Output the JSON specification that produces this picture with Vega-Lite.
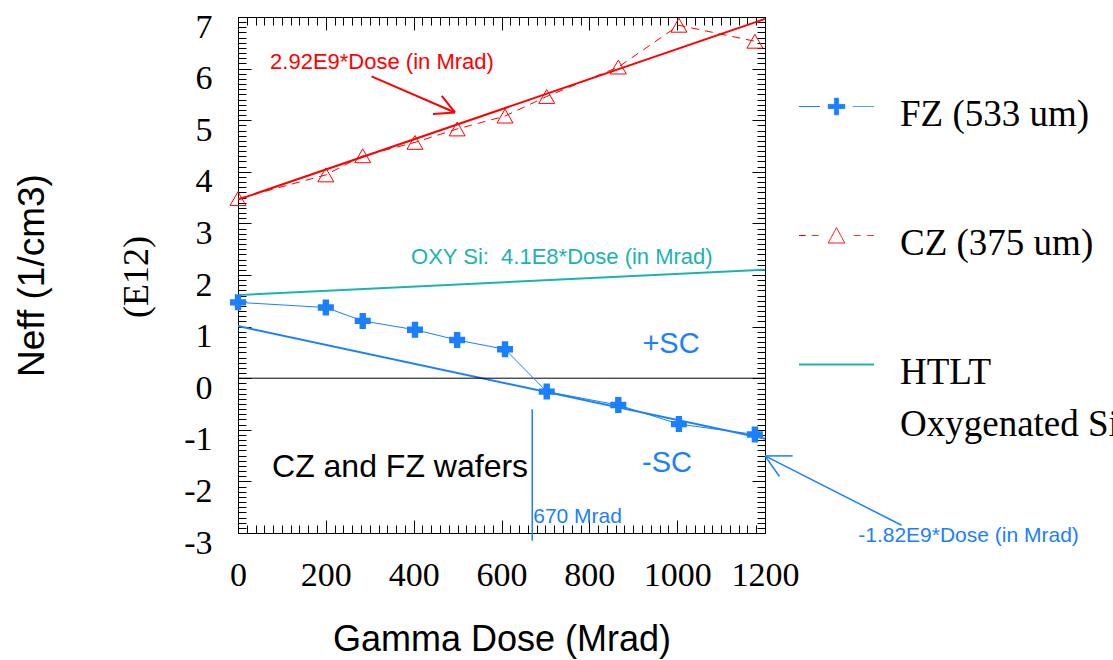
{
  "$schema": "https://vega.github.io/schema/vega-lite/v6.json",
  "width": 527,
  "height": 516,
  "autosize": {"type": "none"},
  "padding": {"left": 238, "top": 17, "right": 348, "bottom": 127},
  "background": "white",
  "config": {
    "font": "Liberation Sans",
    "view": {"stroke": "black", "strokeWidth": 1},
    "axis": {"grid": false, "domain": false, "tickColor": "black", "tickWidth": 1, "labelColor": "black", "titleColor": "black", "titleFontWeight": "normal"}
  },
  "resolve": {"axis": {"x": "independent", "y": "independent"}},
  "layer": [
    {
      "data": {"values": [{"dose": 0, "neff": 3.46}, {"dose": 1200, "neff": 6.964}]},
      "mark": {"type": "line", "color": "#ff0000", "strokeWidth": 2},
      "encoding": {
        "x": {"field": "dose", "type": "quantitative", "scale": {"domain": [0, 1200], "nice": false, "zero": false},
          "axis": {"orient": "bottom", "values": [0, 200, 400, 600, 800, 1000, 1200], "ticks": false, "tickSize": 0,
            "labelFont": "Liberation Serif", "labelFontSize": 34, "labelPadding": 25, "labelBaseline": "top", "labelFlush": false, "labelOverlap": false,
            "labelExpr": "'' + datum.value",
            "title": "Gamma Dose (Mrad)", "titleFont": "Liberation Sans", "titleFontSize": 36, "titleX": 263.5, "titleY": 117, "titleAlign": "center", "titleBaseline": "alphabetic"}},
        "y": {"field": "neff", "type": "quantitative", "scale": {"domain": [-3, 7], "nice": false, "zero": false},
          "axis": {"orient": "left", "values": [-3, -2, -1, 0, 1, 2, 3, 4, 5, 6, 7], "ticks": false, "tickSize": 0,
            "labelFont": "Liberation Serif", "labelFontSize": 34, "labelPadding": 26, "labelOffset": 10, "labelOverlap": false, "labelFlush": false,
            "labelExpr": "datum.value < 0 ? '-' + abs(datum.value) : '' + datum.value",
            "title": "Neff (1/cm3)", "titleFont": "Liberation Sans", "titleFontSize": 37, "titleAngle": -90, "titleX": -195, "titleY": 258, "titleAlign": "center", "titleBaseline": "alphabetic"}}
      }
    },
    {
      "data": {"values": [{"dose": 0, "neff": 1.01}, {"dose": 1200, "neff": -1.174}]},
      "mark": {"type": "line", "color": "#1a80ff", "strokeWidth": 2},
      "encoding": {
        "x": {"field": "dose", "type": "quantitative", "scale": {"domain": [0, 1200], "nice": false, "zero": false},
          "axis": {"orient": "top", "offset": -516, "values": [0, 200, 400, 600, 800, 1000, 1200], "tickSize": 13, "labels": false, "title": null}},
        "y": {"field": "neff", "type": "quantitative", "scale": {"domain": [-3, 7], "nice": false, "zero": false},
          "axis": {"orient": "right", "offset": -527, "values": [-3, -2, -1, 0, 1, 2, 3, 4, 5, 6, 7], "tickSize": 13, "labels": false, "title": null}}
      }
    },
    {
      "data": {"values": [{"dose": 0, "neff": 1.61, "series": "HTLT"}, {"dose": 1200, "neff": 2.102, "series": "HTLT"}]},
      "mark": {"type": "line", "strokeWidth": 2},
      "encoding": {
        "x": {"field": "dose", "type": "quantitative", "scale": {"domain": [0, 1200], "nice": false, "zero": false},
          "axis": {"orient": "top", "offset": -516, "tickCount": 60, "tickSize": 8, "labels": false, "title": null}},
        "y": {"field": "neff", "type": "quantitative", "scale": {"domain": [-3, 7], "nice": false, "zero": false},
          "axis": {"orient": "right", "offset": -527, "tickCount": 100, "tickSize": 8, "labels": false, "title": null}},
        "color": {"field": "series", "type": "nominal",
          "scale": {"domain": ["FZ (533 um)", "CZ (375 um)", "HTLT"], "range": ["#1a80ff", "#ff0000", "#1ab2b2"]},
          "legend": {
            "orient": "none", "legendX": 580, "legendY": 71, "title": null, "direction": "vertical", "padding": 0,
            "symbolSize": 5625, "symbolType": "M-1,0H1", "rowPadding": 84,
            "labelFont": "Liberation Serif", "labelFontSize": 37, "labelColor": "black", "labelOffset": 45, "labelLimit": 0,
            "labelExpr": "datum.value === 'HTLT' ? ['HTLT', 'Oxygenated Si'] : datum.value",
            "encode": {
              "symbols": {"update": {
                "shape": {"signal": "datum.value === 'FZ (533 um)' ? 'M-1,0H-0.44M0.43,0H1M-0.22,-0.055H-0.055V-0.22H0.055V-0.055H0.22V0.055H0.055V0.22H-0.055V0.055H-0.22Z' : datum.value === 'CZ (375 um)' ? 'M-1,0H-0.82M-0.66,0H-0.48M0.46,0H0.64M0.82,0H1M0,-0.21L0.22,0.2L-0.22,0.2Z' : 'M-1,0H1'"},
                "fill": {"signal": "datum.value === 'FZ (533 um)' ? '#1a80ff' : 'transparent'"},
                "stroke": {"signal": "datum.value === 'FZ (533 um)' ? '#1a80ff' : datum.value === 'CZ (375 um)' ? '#ff0000' : '#1ab2b2'"},
                "strokeWidth": {"signal": "datum.value === 'HTLT' ? 2 : 1"},
                "strokeDash": {"value": [1, 0]},
                "opacity": {"value": 1},
                "size": {"value": 5625}
              }},
              "labels": {"update": {"dy": {"value": 8}, "lineHeight": {"value": 52}}}
            }
          }}
      }
    },
    {
      "data": {"values": [{"dose": 0, "neff": 0}, {"dose": 1200, "neff": 0}]},
      "mark": {"type": "line", "color": "black", "strokeWidth": 1},
      "encoding": {
        "x": {"field": "dose", "type": "quantitative", "scale": {"domain": [0, 1200], "nice": false, "zero": false},
          "axis": {"orient": "bottom", "offset": -516, "values": [0, 200, 400, 600, 800, 1000, 1200], "tickSize": 13, "labels": false, "title": null}},
        "y": {"field": "neff", "type": "quantitative", "scale": {"domain": [-3, 7], "nice": false, "zero": false},
          "axis": {"orient": "left", "offset": -527, "values": [-3, -2, -1, 0, 1, 2, 3, 4, 5, 6, 7], "tickSize": 13, "labels": false, "title": null}}
      }
    },
    {
      "data": {"values": [
        {"dose": 0, "neff": 3.48, "series": "CZ (375 um)"},
        {"dose": 200, "neff": 3.94, "series": "CZ (375 um)"},
        {"dose": 284, "neff": 4.31, "series": "CZ (375 um)"},
        {"dose": 403, "neff": 4.57, "series": "CZ (375 um)"},
        {"dose": 499, "neff": 4.83, "series": "CZ (375 um)"},
        {"dose": 608, "neff": 5.08, "series": "CZ (375 um)"},
        {"dose": 703, "neff": 5.46, "series": "CZ (375 um)"},
        {"dose": 866, "neff": 6.03, "series": "CZ (375 um)"},
        {"dose": 1004, "neff": 6.84, "series": "CZ (375 um)"},
        {"dose": 1177, "neff": 6.53, "series": "CZ (375 um)"}
      ]},
      "mark": {"type": "line", "strokeWidth": 1, "strokeDash": [8, 6]},
      "encoding": {
        "x": {"field": "dose", "type": "quantitative", "scale": {"domain": [0, 1200], "nice": false, "zero": false},
          "axis": {"orient": "bottom", "offset": -516, "tickCount": 60, "tickSize": 8, "labels": false, "title": null}},
        "y": {"field": "neff", "type": "quantitative", "scale": {"domain": [-3, 7], "nice": false, "zero": false},
          "axis": {"orient": "left", "offset": -527, "tickCount": 100, "tickSize": 8, "labels": false, "title": null}},
        "color": {"field": "series", "type": "nominal"}
      }
    },
    {
      "data": {"values": [
        {"dose": 0, "neff": 1.47, "series": "FZ (533 um)"},
        {"dose": 200, "neff": 1.37, "series": "FZ (533 um)"},
        {"dose": 284, "neff": 1.11, "series": "FZ (533 um)"},
        {"dose": 403, "neff": 0.94, "series": "FZ (533 um)"},
        {"dose": 499, "neff": 0.74, "series": "FZ (533 um)"},
        {"dose": 608, "neff": 0.56, "series": "FZ (533 um)"},
        {"dose": 703, "neff": -0.26, "series": "FZ (533 um)"},
        {"dose": 866, "neff": -0.52, "series": "FZ (533 um)"},
        {"dose": 1004, "neff": -0.89, "series": "FZ (533 um)"},
        {"dose": 1177, "neff": -1.09, "series": "FZ (533 um)"}
      ]},
      "mark": {"type": "line", "strokeWidth": 1},
      "encoding": {
        "x": {"field": "dose", "type": "quantitative", "scale": {"domain": [0, 1200], "nice": false, "zero": false}, "axis": null},
        "y": {"field": "neff", "type": "quantitative", "scale": {"domain": [-3, 7], "nice": false, "zero": false},
          "axis": {"orient": "left", "labels": false, "ticks": false, "tickSize": 0, "values": [0],
            "title": "(E12)", "titleFont": "Liberation Serif", "titleFontSize": 36, "titleAngle": -90, "titleX": -91, "titleY": 259.5, "titleAlign": "center", "titleBaseline": "alphabetic"}},
        "color": {"field": "series", "type": "nominal"}
      }
    },
    {
      "data": {"values": [
        {"dose": 0, "neff": 3.48}, {"dose": 200, "neff": 3.94}, {"dose": 284, "neff": 4.31}, {"dose": 403, "neff": 4.57},
        {"dose": 499, "neff": 4.83}, {"dose": 608, "neff": 5.08}, {"dose": 703, "neff": 5.46}, {"dose": 866, "neff": 6.03},
        {"dose": 1004, "neff": 6.84}, {"dose": 1177, "neff": 6.53}
      ]},
      "mark": {"type": "point", "shape": "triangle-up", "size": 256, "filled": false, "stroke": "#ff0000", "strokeWidth": 1, "opacity": 1},
      "encoding": {
        "x": {"field": "dose", "type": "quantitative", "scale": {"domain": [0, 1200], "nice": false, "zero": false}, "axis": null},
        "y": {"field": "neff", "type": "quantitative", "scale": {"domain": [-3, 7], "nice": false, "zero": false}, "axis": null}
      }
    },
    {
      "data": {"values": [
        {"dose": 0, "neff": 1.47}, {"dose": 200, "neff": 1.37}, {"dose": 284, "neff": 1.11}, {"dose": 403, "neff": 0.94},
        {"dose": 499, "neff": 0.74}, {"dose": 608, "neff": 0.56}, {"dose": 703, "neff": -0.26}, {"dose": 866, "neff": -0.52},
        {"dose": 1004, "neff": -0.89}, {"dose": 1177, "neff": -1.09}
      ]},
      "mark": {"type": "point", "shape": "cross", "size": 256, "filled": true, "fill": "#1a80ff", "strokeWidth": 0, "opacity": 1},
      "encoding": {
        "x": {"field": "dose", "type": "quantitative", "scale": {"domain": [0, 1200], "nice": false, "zero": false}, "axis": null},
        "y": {"field": "neff", "type": "quantitative", "scale": {"domain": [-3, 7], "nice": false, "zero": false}, "axis": null}
      }
    },
    {
      "data": {"values": [
        {"dose": 304, "neff": 5.85, "dose2": 494, "neff2": 5.15},
        {"dose": 494, "neff": 5.15, "dose2": 444, "neff2": 5.12},
        {"dose": 494, "neff": 5.15, "dose2": 464, "neff2": 5.47}
      ]},
      "mark": {"type": "rule", "color": "#ff0000", "strokeWidth": 2},
      "encoding": {
        "x": {"field": "dose", "type": "quantitative", "scale": {"domain": [0, 1200], "nice": false, "zero": false}, "axis": null},
        "y": {"field": "neff", "type": "quantitative", "scale": {"domain": [-3, 7], "nice": false, "zero": false}, "axis": null},
        "x2": {"field": "dose2"},
        "y2": {"field": "neff2"}
      }
    },
    {
      "data": {"values": [
        {"dose": 1511, "neff": -2.85, "dose2": 1200, "neff2": -1.506},
        {"dose": 1200, "neff": -1.506, "dose2": 1263, "neff2": -1.506},
        {"dose": 1200, "neff": -1.506, "dose2": 1233, "neff2": -1.905},
        {"dose": 670, "neff": -0.6, "dose2": 670, "neff2": -3.15}
      ]},
      "mark": {"type": "rule", "color": "#1a80ff", "strokeWidth": 1.5},
      "encoding": {
        "x": {"field": "dose", "type": "quantitative", "scale": {"domain": [0, 1200], "nice": false, "zero": false}, "axis": null},
        "y": {"field": "neff", "type": "quantitative", "scale": {"domain": [-3, 7], "nice": false, "zero": false}, "axis": null},
        "x2": {"field": "dose2"},
        "y2": {"field": "neff2"}
      }
    },
    {
      "data": {"values": [{"dose": 73, "neff": 6.12, "label": "2.92E9*Dose (in Mrad)"}]},
      "mark": {"type": "text", "color": "#ff0000", "font": "Liberation Sans", "fontSize": 22, "align": "left", "baseline": "middle"},
      "encoding": {
        "x": {"field": "dose", "type": "quantitative", "scale": {"domain": [0, 1200], "nice": false, "zero": false}, "axis": null},
        "y": {"field": "neff", "type": "quantitative", "scale": {"domain": [-3, 7], "nice": false, "zero": false}, "axis": null},
        "text": {"field": "label"}
      }
    },
    {
      "data": {"values": [{"dose": 394, "neff": 2.34, "label": "OXY Si:\u00a0 4.1E8*Dose (in Mrad)"}]},
      "mark": {"type": "text", "color": "#1ab2b2", "font": "Liberation Sans", "fontSize": 22, "align": "left", "baseline": "middle"},
      "encoding": {
        "x": {"field": "dose", "type": "quantitative", "scale": {"domain": [0, 1200], "nice": false, "zero": false}, "axis": null},
        "y": {"field": "neff", "type": "quantitative", "scale": {"domain": [-3, 7], "nice": false, "zero": false}, "axis": null},
        "text": {"field": "label"}
      }
    },
    {
      "data": {"values": [
        {"dose": 670, "neff": -2.69, "label": "670 Mrad"},
        {"dose": 1410, "neff": -3.06, "label": "-1.82E9*Dose (in Mrad)"}
      ]},
      "mark": {"type": "text", "color": "#1a80ff", "font": "Liberation Sans", "fontSize": 21, "align": "left", "baseline": "middle", "dx": 1},
      "encoding": {
        "x": {"field": "dose", "type": "quantitative", "scale": {"domain": [0, 1200], "nice": false, "zero": false}, "axis": null},
        "y": {"field": "neff", "type": "quantitative", "scale": {"domain": [-3, 7], "nice": false, "zero": false}, "axis": null},
        "text": {"field": "label"}
      }
    },
    {
      "data": {"values": [
        {"dose": 986, "neff": 0.66, "label": "+SC"},
        {"dose": 977, "neff": -1.65, "label": "-SC"}
      ]},
      "mark": {"type": "text", "color": "#1a80ff", "font": "Liberation Sans", "fontSize": 29, "align": "center", "baseline": "middle"},
      "encoding": {
        "x": {"field": "dose", "type": "quantitative", "scale": {"domain": [0, 1200], "nice": false, "zero": false}, "axis": null},
        "y": {"field": "neff", "type": "quantitative", "scale": {"domain": [-3, 7], "nice": false, "zero": false}, "axis": null},
        "text": {"field": "label"}
      }
    },
    {
      "data": {"values": [{"dose": 369, "neff": -1.72, "label": "CZ and FZ wafers"}]},
      "mark": {"type": "text", "color": "black", "font": "Liberation Sans", "fontSize": 32, "align": "center", "baseline": "middle"},
      "encoding": {
        "x": {"field": "dose", "type": "quantitative", "scale": {"domain": [0, 1200], "nice": false, "zero": false}, "axis": null},
        "y": {"field": "neff", "type": "quantitative", "scale": {"domain": [-3, 7], "nice": false, "zero": false}, "axis": null},
        "text": {"field": "label"}
      }
    }
  ]
}
